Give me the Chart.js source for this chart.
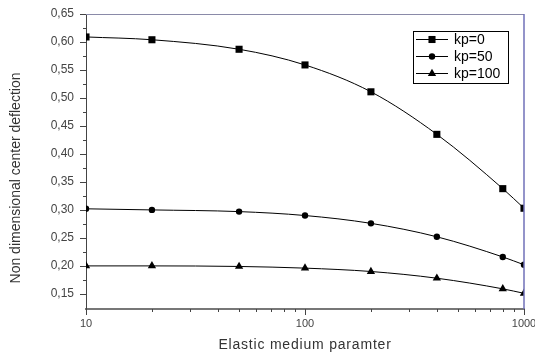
<!DOCTYPE html>
<html>
<head>
<meta charset="utf-8">
<script src="https://cdn.jsdelivr.net/npm/chart.js@4"></script>
<style>
  html, body { margin: 0; padding: 0; background: #fff; }
  #wrap { width: 535px; height: 355px; }
</style>
</head>
<body>
<div id="wrap"><canvas id="grafico"></canvas></div>
<script>
const xValues = [10, 20, 50, 100, 200, 400, 800, 1000];
const kp0   = [0.609, 0.604, 0.587, 0.559, 0.511, 0.435, 0.338, 0.303];
const kp50  = [0.302, 0.300, 0.297, 0.290, 0.276, 0.252, 0.216, 0.202];
const kp100 = [0.200, 0.200, 0.199, 0.196, 0.190, 0.178, 0.159, 0.151];

const yTicks = [0.15, 0.20, 0.25, 0.30, 0.35, 0.40, 0.45, 0.50, 0.55, 0.60, 0.65];
const yMinor = [0.175, 0.225, 0.275, 0.325, 0.375, 0.425, 0.475, 0.525, 0.575, 0.625];
const xTicks = [10, 100, 1000];
const xMinor = [20, 30, 40, 50, 60, 70, 80, 90, 200, 300, 400, 500, 600, 700, 800, 900];

const xTitulo = "Elastic medium paramter";
const yTitulo = "Non dimensional center deflection";

const FONTE = "'Liberation Sans', Arial, sans-serif";

const pares = (ys) => xValues.map((x, i) => ({ x, y: ys[i] }));

function marcador(ctx, estilo, x, y, r) {
  ctx.beginPath();
  if (estilo === "rect") {
    const s = r * Math.SQRT1_2;
    ctx.rect(x - s, y - s, 2 * s, 2 * s);
  } else if (estilo === "triangle") {
    ctx.moveTo(x, y - r);
    ctx.lineTo(x + r * 0.866, y + r * 0.5);
    ctx.lineTo(x - r * 0.866, y + r * 0.5);
    ctx.closePath();
  } else {
    ctx.arc(x, y, r, 0, Math.PI * 2);
  }
  ctx.fill();
}

// tick marks, frame lines, axis titles and the legend box
const moldura = {
  id: "moldura",
  afterDraw(chart) {
    const { ctx, chartArea: a, scales } = chart;
    const x = scales.x, y = scales.y;
    ctx.save();
    ctx.strokeStyle = "#444";
    ctx.lineWidth = 1;
    ctx.beginPath();
    yTicks.forEach((v) => { const p = Math.round(y.getPixelForValue(v)) + 0.5; ctx.moveTo(a.left - 6, p); ctx.lineTo(a.left, p); });
    yMinor.forEach((v) => { const p = Math.round(y.getPixelForValue(v)) + 0.5; ctx.moveTo(a.left - 3, p); ctx.lineTo(a.left, p); });
    xTicks.forEach((v) => { const p = Math.round(x.getPixelForValue(v)) + 0.5; ctx.moveTo(p, a.bottom); ctx.lineTo(p, a.bottom + 6); });
    xMinor.forEach((v) => { const p = Math.round(x.getPixelForValue(v)) + 0.5; ctx.moveTo(p, a.bottom); ctx.lineTo(p, a.bottom + 3); });
    ctx.stroke();

    // top and right border
    ctx.strokeStyle = "#8a8aa8";
    ctx.beginPath();
    ctx.moveTo(a.left, a.top + 0.5);
    ctx.lineTo(a.right, a.top + 0.5);
    ctx.stroke();
    ctx.strokeStyle = "#7070b8";
    ctx.lineWidth = 1.5;
    ctx.beginPath();
    ctx.moveTo(a.right, a.top);
    ctx.lineTo(a.right, a.bottom);
    ctx.stroke();

    // axis titles
    ctx.fillStyle = "#333";
    ctx.font = "14px " + FONTE;
    ctx.textAlign = "center";
    ctx.textBaseline = "alphabetic";
    ctx.letterSpacing = "0.8px";
    ctx.fillText(xTitulo, 305, 349);
    ctx.letterSpacing = "0px";
    ctx.save();
    ctx.translate(20, 178);
    ctx.rotate(-Math.PI / 2);
    ctx.fillText(yTitulo, 0, 0);
    ctx.restore();

    // legend
    const bx = 413.5, by = 31.5, bw = 95, bh = 52;
    ctx.fillStyle = "#fff";
    ctx.fillRect(bx, by, bw, bh);
    ctx.strokeStyle = "#000";
    ctx.lineWidth = 1;
    ctx.strokeRect(bx, by, bw, bh);
    ctx.font = "14px " + FONTE;
    ctx.textAlign = "left";
    ctx.textBaseline = "middle";
    chart.data.datasets.forEach((ds, i) => {
      const ly = 39.5 + i * 17;
      ctx.strokeStyle = "#000";
      ctx.beginPath();
      ctx.moveTo(416, ly);
      ctx.lineTo(448, ly);
      ctx.stroke();
      ctx.fillStyle = "#000";
      marcador(ctx, ds.pointStyle, 432, ly, ds.pointRadius);
      ctx.fillText(ds.label, 454, ly + 1);
    });
    ctx.restore();
  },
};

const serie = (label, data, estilo, raio) => ({
  label,
  data: pares(data),
  borderColor: "#000",
  backgroundColor: "#000",
  borderWidth: 1,
  pointStyle: estilo,
  pointRadius: raio,
  pointHoverRadius: raio,
  pointBorderWidth: 0,
  cubicInterpolationMode: "monotone",
});

new Chart(document.getElementById("grafico"), {
  type: "line",
  data: {
    datasets: [
      serie("kp=0", kp0, "rect", 5),
      serie("kp=50", kp50, "circle", 3.2),
      serie("kp=100", kp100, "triangle", 4.8),
    ],
  },
  options: {
    responsive: true,
    maintainAspectRatio: false,
    animation: false,
    layout: { padding: { top: 14, right: 11, left: 0, bottom: 0 } },
    plugins: { legend: { display: false }, tooltip: { enabled: false } },
    scales: {
      x: {
        type: "logarithmic",
        min: 10,
        max: 1000,
        afterBuildTicks: (s) => { s.ticks = xTicks.map((v) => ({ value: v })); },
        afterFit: (s) => { s.height = 46; s.paddingLeft = 0; s.paddingRight = 0; },
        grid: { display: false, drawTicks: false },
        border: { display: true, color: "#777", width: 2 },
        ticks: {
          color: "#444",
          font: { family: FONTE, size: 11 },
          padding: 8,
          maxRotation: 0,
          autoSkip: false,
          callback: (v) => String(v),
        },
        title: { display: false },
      },
      y: {
        min: 0.123,
        max: 0.65,
        afterBuildTicks: (s) => { s.ticks = yTicks.map((v) => ({ value: v })); },
        afterFit: (s) => { s.width = 86; s.paddingTop = 0; s.paddingBottom = 0; },
        grid: { display: false, drawTicks: false },
        border: { display: true, color: "#444", width: 1 },
        ticks: {
          color: "#444",
          font: { family: FONTE, size: 12 },
          padding: 12,
          callback: (v) => v.toFixed(2).replace(".", ","),
        },
        title: { display: false },
      },
    },
  },
  plugins: [moldura],
});
</script>
</body>
</html>
